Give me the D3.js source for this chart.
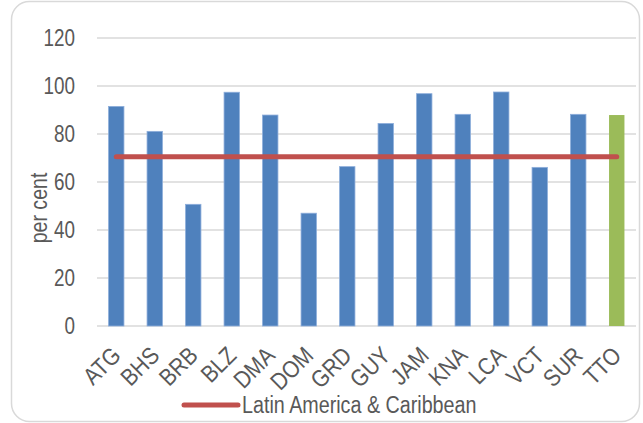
<!DOCTYPE html>
<meta charset="utf-8">
<style>
  body { margin: 0; background: #fff; }
  text { font-family: "Liberation Sans", Arial, sans-serif; fill: #595959; }
</style>
<body>
<script src="https://cdn.jsdelivr.net/npm/d3@7"></script>
<script>
  var width = 643;
  var height = 423;

  // data
  var countries = ["ATG", "BHS", "BRB", "BLZ", "DMA", "DOM", "GRD", "GUY", "JAM", "KNA", "LCA", "VCT", "SUR", "TTO"];
  var values = [91.5, 81.1, 50.7, 97.4, 87.9, 47.0, 66.4, 84.4, 96.8, 88.2, 97.5, 66.1, 88.2, 87.9];
  var regionAvg = 70.5;
  var yTicks = [0, 20, 40, 60, 80, 100, 120];
  var highlight = "TTO";

  var svg = d3.select("body")
    .append("svg")
    .attr("width", width)
    .attr("height", height);

  // squeeze text horizontally, the original uses a narrow font
  function narrow(sel, k) {
    sel.each(function () {
      var len = this.getComputedTextLength();
      d3.select(this)
        .attr("textLength", len * k)
        .attr("lengthAdjust", "spacingAndGlyphs");
    });
  }

  // chart border
  svg.append("rect")
    .attr("x", 11.5)
    .attr("y", 1.5)
    .attr("width", 628)
    .attr("height", 420)
    .attr("rx", 18)
    .style("fill", "none")
    .style("stroke", "#d9d9d9")
    .style("stroke-width", 1.5);

  var x = d3.scaleBand()
    .domain(countries)
    .range([97, 636])
    .paddingInner(0.6)
    .paddingOuter(0.3);

  var y = d3.scaleLinear()
    .domain([0, 120])
    .range([326, 38]);

  var g = svg.append("g");

  // gridlines
  g.selectAll("line.grid")
    .data(yTicks)
    .enter()
    .append("line")
    .attr("class", "grid")
    .attr("x1", 97)
    .attr("x2", 636)
    .attr("y1", function (d) { return y(d); })
    .attr("y2", function (d) { return y(d); })
    .style("stroke", "#d9d9d9")
    .style("stroke-width", 1.5);

  // y axis labels
  var yAxis = d3.axisLeft(y).tickValues(yTicks).tickSize(0).tickPadding(22);
  var ya = svg.append("g").attr("transform", "translate(97,0)").call(yAxis);
  ya.select(".domain").remove();
  ya.selectAll("text")
    .style("font-size", "23px")
    .style("font-family", null)
    .attr("fill", null)
    .call(narrow, 0.82);

  svg.append("text")
    .attr("transform", "translate(47,208) rotate(-90)")
    .attr("text-anchor", "middle")
    .style("font-size", "23px")
    .text("per cent")
    .call(narrow, 0.85);

  // bars
  g.selectAll("rect.bar")
    .data(countries)
    .enter()
    .append("rect")
    .attr("class", "bar")
    .attr("x", function (d) { return x(d); })
    .attr("width", x.bandwidth())
    .attr("y", function (d, i) { return y(values[i]); })
    .attr("height", function (d, i) { return y(0) - y(values[i]); })
    .style("fill", function (d) { return d == highlight ? "#9bbb59" : "#4f81bd"; })
    .style("stroke", function (d) { return d == highlight ? "none" : "#8eaedb"; })
    .style("stroke-width", 0.8);

  // regional average line
  svg.append("line")
    .attr("x1", x(countries[0]) + x.bandwidth() / 2)
    .attr("x2", x(countries[countries.length - 1]) + x.bandwidth() / 2)
    .attr("y1", y(regionAvg))
    .attr("y2", y(regionAvg))
    .style("stroke", "#c0504d")
    .style("stroke-width", 5)
    .style("stroke-linecap", "round");

  // x axis labels
  var xAxis = d3.axisBottom(x).tickSize(0);
  var xa = svg.append("g").attr("transform", "translate(0,326)").call(xAxis);
  xa.select(".domain").remove();
  xa.selectAll("text")
    .style("font-size", "24px")
    .style("font-family", null)
    .attr("fill", null)
    .attr("text-anchor", "end")
    .attr("dy", null)
    .attr("y", 0)
    .attr("transform", "translate(6,31) rotate(-45)")
    .call(narrow, 0.87);

  // legend
  var lg = svg.append("g");
  lg.append("line")
    .attr("x1", 184).attr("x2", 238)
    .attr("y1", 405).attr("y2", 405)
    .style("stroke", "#c0504d")
    .style("stroke-width", 5)
    .style("stroke-linecap", "round");
  lg.append("text")
    .attr("x", 242)
    .attr("y", 413)
    .style("font-size", "23px")
    .text("Latin America & Caribbean")
    .call(narrow, 0.857);
</script>
